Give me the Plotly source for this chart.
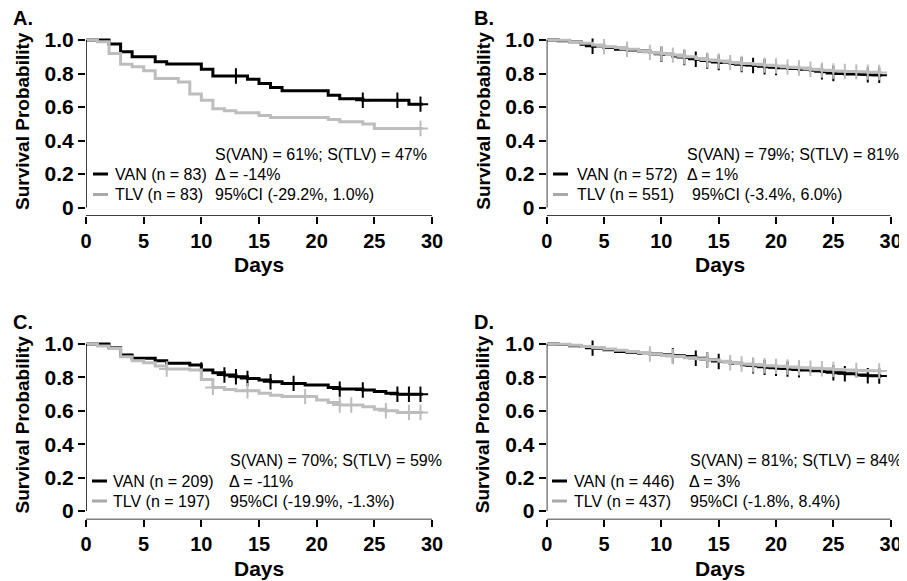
import numpy as np
import plotly.graph_objects as go

# Reference canvas is 907x581; the page body adds an 8px margin, so the figure
# is drawn 8px smaller in each direction and every reference pixel is shifted.
REF_W, REF_H = 907, 581
OFF = 8
FW, FH = REF_W - OFF, REF_H - OFF
END_T = 29.2

# ---------------- data ----------------
days = list(range(0, 30))

# Panel A
A_van_t = [0, 2, 3, 4, 6, 7, 10, 11, 14, 15, 16, 17, 21, 22, 24, 28]
A_van_s = [1.0, 0.976, 0.93, 0.90, 0.87, 0.857, 0.825, 0.785, 0.765, 0.74, 0.717, 0.697, 0.67, 0.65, 0.64, 0.617]
A_van_c = [13, 24, 27, 29]
A_tlv_t = [0, 1, 2, 3, 4, 5, 6, 8, 9, 10, 11, 12, 13, 15, 16, 21, 22, 24, 25]
A_tlv_s = [1.0, 0.99, 0.92, 0.855, 0.84, 0.817, 0.77, 0.75, 0.677, 0.64, 0.59, 0.578, 0.566, 0.55, 0.538, 0.526, 0.512, 0.498, 0.472]
A_tlv_c = [29]

# Panel B
B_van_t = days
B_van_s = [1.0, 0.995, 0.99, 0.975, 0.963, 0.955, 0.945, 0.94, 0.935, 0.925, 0.915, 0.905, 0.895,
           0.885, 0.875, 0.865, 0.86, 0.853, 0.848, 0.84, 0.835, 0.83, 0.825, 0.82, 0.81, 0.80,
           0.797, 0.795, 0.792, 0.79]
B_van_c = [4, 10, 12, 13, 14, 15, 17, 18, 19, 20, 24, 25, 28, 29]
B_tlv_t = days
B_tlv_s = [1.0, 0.998, 0.99, 0.98, 0.97, 0.96, 0.955, 0.945, 0.935, 0.925, 0.918, 0.91, 0.90,
           0.89, 0.88, 0.875, 0.865, 0.86, 0.855, 0.85, 0.845, 0.838, 0.833, 0.825, 0.82, 0.815,
           0.812, 0.81, 0.808, 0.806]
B_tlv_c = [5, 7, 9, 10, 11, 12, 14, 15, 16, 17, 19, 20, 21, 22, 23, 24, 25, 26, 27, 28, 29]

# Panel C
C_van_t = [0, 2, 3, 4, 6, 7, 9, 10, 11, 12, 13, 14, 15, 16, 17, 19, 21, 22, 24, 25, 26, 27]
C_van_s = [1.0, 0.978, 0.934, 0.914, 0.90, 0.884, 0.874, 0.844, 0.828, 0.814, 0.804, 0.794,
           0.784, 0.774, 0.764, 0.754, 0.74, 0.73, 0.725, 0.715, 0.705, 0.699]
C_van_c = [10, 12, 13, 14, 16, 18, 22, 24, 27, 28, 29]
C_tlv_t = [0, 1, 2, 3, 4, 5, 6, 7, 9, 10, 11, 12, 13, 15, 16, 17, 20, 21, 22, 24, 25, 26, 27]
C_tlv_s = [1.0, 0.988, 0.974, 0.924, 0.90, 0.888, 0.868, 0.85, 0.844, 0.788, 0.74, 0.728, 0.72,
           0.705, 0.693, 0.685, 0.665, 0.649, 0.635, 0.625, 0.61, 0.60, 0.59]
C_tlv_c = [7, 11, 14, 19, 22, 23, 26, 28, 29]

# Panel D
D_van_t = days
D_van_s = [1.0, 0.997, 0.99, 0.985, 0.975, 0.965, 0.955, 0.95, 0.945, 0.94, 0.935, 0.93, 0.925,
           0.915, 0.905, 0.895, 0.885, 0.875, 0.87, 0.86, 0.855, 0.85, 0.845, 0.84, 0.835, 0.828,
           0.822, 0.815, 0.81, 0.808]
D_van_c = [4, 11, 13, 14, 15, 18, 19, 20, 21, 22, 25, 26, 28, 29]
D_tlv_t = days
D_tlv_s = [1.0, 0.998, 0.992, 0.985, 0.978, 0.97, 0.962, 0.955, 0.948, 0.94, 0.932, 0.925, 0.918,
           0.912, 0.905, 0.897, 0.888, 0.88, 0.875, 0.87, 0.866, 0.862, 0.858, 0.855, 0.852, 0.848,
           0.845, 0.842, 0.84, 0.838]
D_tlv_c = [9, 11, 14, 16, 17, 18, 19, 20, 21, 22, 23, 24, 25, 27, 29]

panel_labels = ["A.", "B.", "C.", "D."]
van_legend = ["VAN (n = 83)", "VAN (n = 572)", "VAN (n = 209)", "VAN (n = 446)"]
tlv_legend = ["TLV (n = 83)", "TLV (n = 551)", "TLV (n = 197)", "TLV (n = 437)"]
stat_s = ["S(VAN) = 61%; S(TLV) = 47%", "S(VAN) = 79%; S(TLV) = 81%",
          "S(VAN) = 70%; S(TLV) = 59%", "S(VAN) = 81%; S(TLV) = 84%"]
stat_d = ["Δ = -14%", "Δ = 1%", "Δ = -11%", "Δ = 3%"]
stat_ci = ["95%CI (-29.2%, 1.0%)", "95%CI (-3.4%, 6.0%)",
           "95%CI (-19.9%, -1.3%)", "95%CI (-1.8%, 8.4%)"]
x_ticks = [0, 5, 10, 15, 20, 25, 30]
y_ticks = [0, 0.2, 0.4, 0.6, 0.8, 1.0]
y_ticktext = ["0", "0.2", "0.4", "0.6", "0.8", "1.0"]

panels = [
    (A_van_t, A_van_s, A_van_c, A_tlv_t, A_tlv_s, A_tlv_c),
    (B_van_t, B_van_s, B_van_c, B_tlv_t, B_tlv_s, B_tlv_c),
    (C_van_t, C_van_s, C_van_c, C_tlv_t, C_tlv_s, C_tlv_c),
    (D_van_t, D_van_s, D_van_c, D_tlv_t, D_tlv_s, D_tlv_c),
]

# ---------------- layout geometry (reference pixels) ----------------
BLACK = "#000000"
GREY = "#bdbdbd"
FONT = "Liberation Sans, Arial, sans-serif"


def px(x):
    return (x - OFF) / FW


def py(y):
    return 1 - (y - OFF) / FH


x_domains = [[px(86), px(432)], [px(546.7), px(890.7)]]
y_domains = [[py(215.9), py(33.3)], [py(519.4), py(337.3)]]
col_off = [0, 460.7]
row_off = [0, 303.5]

leg_line_x = [93, 553, 92, 552]
leg_text_x = [113, 575, 111, 572]
stat_x = [(213, 213, 213), (685, 685, 690), (227.5, 227, 227.5), (688, 687, 688)]
text_rows = [(154, 174, 194.5), (460, 481, 501)]


def step_value(t, s, tc):
    idx = np.searchsorted(np.asarray(t), np.asarray(tc), side="right") - 1
    return np.asarray(s)[idx]


fig = go.Figure()
layout = {}
shapes = []
annotations = []

for i, (vt, vs, vc, tt, ts, tc) in enumerate(panels):
    r, c = divmod(i, 2)
    n = i + 1
    xa = "x" if n == 1 else f"x{n}"
    ya = "y" if n == 1 else f"y{n}"
    for t, s, cens, col in [(vt, vs, vc, BLACK), (tt, ts, tc, GREY)]:
        fig.add_trace(go.Scatter(
            x=list(t) + [END_T], y=list(s) + [s[-1]], mode="lines",
            line=dict(color=col, width=3, shape="hv"),
            xaxis=xa, yaxis=ya, showlegend=False, hoverinfo="skip"))
        fig.add_trace(go.Scatter(
            x=cens, y=step_value(t, s, cens), mode="markers",
            marker=dict(symbol="cross-thin", size=11, line=dict(color=col, width=2)),
            xaxis=xa, yaxis=ya, showlegend=False, cliponaxis=False, hoverinfo="skip"))

    layout["xaxis" if n == 1 else f"xaxis{n}"] = dict(
        domain=x_domains[c], range=[0, 30], anchor=ya, automargin=False,
        tickvals=x_ticks, ticks="outside", ticklen=7, tickwidth=1.5, tickcolor=BLACK,
        showgrid=False, zeroline=False, showline=False,
        tickfont=dict(family=FONT, size=20, color=BLACK, weight="bold"))
    layout["yaxis" if n == 1 else f"yaxis{n}"] = dict(
        domain=y_domains[r], range=[-0.05, 1.04], anchor=xa, automargin=False,
        tickvals=y_ticks, ticktext=y_ticktext, ticks="outside", ticklen=7, tickwidth=1.5,
        tickcolor=BLACK, showgrid=False, zeroline=False, showline=False,
        tickfont=dict(family=FONT, size=21, color=BLACK, weight="bold"))

    # R-style detached axis lines
    shapes.append(dict(type="line", xref=xa, yref=ya, x0=0, x1=0, y0=0, y1=1,
                       line=dict(color=BLACK, width=1.5)))
    shapes.append(dict(type="line", xref=xa, yref=ya, x0=0, x1=30, y0=-0.05, y1=-0.05,
                       line=dict(color=BLACK, width=1.5)))

    ox, oy = col_off[c], row_off[r]
    annotations.append(dict(text=f"<b>{panel_labels[i]}</b>", x=px(11 + ox), y=py(18 + oy),
                            xref="paper", yref="paper", xanchor="left", yanchor="middle",
                            showarrow=False, font=dict(family=FONT, size=20, color=BLACK)))
    annotations.append(dict(text="<b>Days</b>", x=px(259 + ox), y=py(265 + oy),
                            xref="paper", yref="paper", xanchor="center", yanchor="middle",
                            showarrow=False, font=dict(family=FONT, size=21, color=BLACK)))
    annotations.append(dict(text="<b>Survival Probability</b>", x=px(22 + ox), y=py(121 + oy),
                            xref="paper", yref="paper", xanchor="center", yanchor="middle",
                            textangle=-90, showarrow=False,
                            font=dict(family=FONT, size=19, color=BLACK)))
    rows = text_rows[r]
    lx0 = leg_line_x[i]
    for k, (lab, col) in enumerate([(van_legend[i], BLACK), (tlv_legend[i], "#a8a8a8")]):
        yy = rows[k + 1]
        shapes.append(dict(type="line", xref="paper", yref="paper",
                           x0=px(lx0), x1=px(lx0 + 15), y0=py(yy), y1=py(yy),
                           line=dict(color=col, width=3)))
        annotations.append(dict(text=lab, x=px(leg_text_x[i]), y=py(yy), xref="paper", yref="paper",
                                xanchor="left", yanchor="middle", showarrow=False,
                                font=dict(family=FONT, size=16, color=BLACK)))
    for k, txt in enumerate([stat_s[i], stat_d[i], stat_ci[i]]):
        annotations.append(dict(text=txt, x=px(stat_x[i][k]), y=py(rows[k]), xref="paper",
                                yref="paper", xanchor="left", yanchor="middle", showarrow=False,
                                font=dict(family=FONT, size=16, color=BLACK)))

fig.update_layout(
    width=FW, height=FH, margin=dict(l=0, r=0, t=0, b=0),
    paper_bgcolor="white", plot_bgcolor="white",
    shapes=shapes, annotations=annotations, **layout)

fig.write_html("out.html")
